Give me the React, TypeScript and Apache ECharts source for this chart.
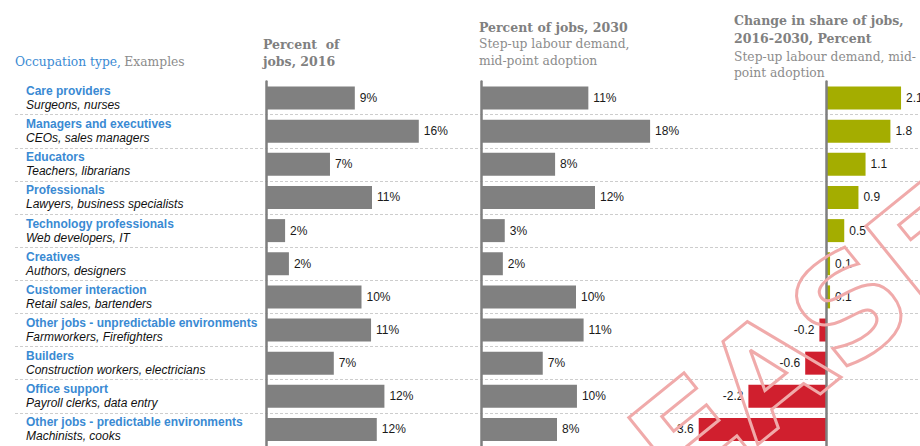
import React, { useEffect, useRef } from "react";
import * as echarts from "echarts";

const names = [
  "Care providers",
  "Managers and executives",
  "Educators",
  "Professionals",
  "Technology professionals",
  "Creatives",
  "Customer interaction",
  "Other jobs - unpredictable environments",
  "Builders",
  "Office support",
  "Other jobs - predictable environments",
];
const examples = [
  "Surgeons, nurses",
  "CEOs, sales managers",
  "Teachers, librarians",
  "Lawyers, business specialists",
  "Web developers, IT",
  "Authors, designers",
  "Retail sales, bartenders",
  "Farmworkers, Firefighters",
  "Construction workers, electricians",
  "Payroll clerks, data entry",
  "Machinists, cooks",
];
const share2016 = [9.3, 16.0, 6.7, 11.1, 2.0, 2.4, 10.0, 11.0, 7.1, 12.4, 11.6];
const share2030 = [11.3, 17.8, 7.8, 12.0, 2.5, 2.3, 10.0, 10.8, 6.5, 10.1, 8.0];
const change = [2.1, 1.8, 1.1, 0.9, 0.5, 0.1, 0.1, -0.2, -0.6, -2.2, -3.6];

const BLUE = "#3a8ad3";
const GRAY = "#808080";
const GREEN = "#a4ad00";
const RED = "#d01f2e";
const SERIF = '"DejaVu Serif", serif';
const SANS = '"Liberation Sans", Arial, sans-serif';

const TOP = 81.5;
const HEIGHT = 368.5;

export default function App() {
  const ref = useRef<HTMLDivElement>(null);
  useEffect(() => {
    if (!ref.current) return;
    const chart = echarts.init(ref.current, null, { renderer: "svg" });

    const hiddenCat = (gi: number, showLine: boolean) => ({
      type: "category" as const,
      gridIndex: gi,
      data: names,
      inverse: true,
      z: 5,
      axisLabel: { show: false },
      axisTick: { show: false },
      splitLine: { show: false },
      axisLine: { show: showLine, onZero: true, lineStyle: { color: "#7f7f7f", width: 2.5 } },
    });
    const valAxis = (gi: number, min: number, max: number) => ({
      type: "value" as const,
      gridIndex: gi,
      min,
      max,
      show: false,
    });
    const valLabel = {
      show: true,
      position: "right" as const,
      distance: 5,
      fontSize: 12,
      fontFamily: SANS,
      color: "#1a1a1a",
    };

    const header = (x: number, y: number, text: string, bold: boolean, color = "#808080") => ({
      type: "text" as const,
      x,
      y,
      style: {
        text,
        fontFamily: SERIF,
        fontSize: bold ? 12.5 : 12.3,
        fontWeight: bold ? "bold" : "normal",
        fill: color,
        textVerticalAlign: "middle",
      },
    });

    chart.setOption({
      animation: false,
      backgroundColor: "#ffffff",
      grid: [
        { left: 15, width: 905, top: TOP, height: HEIGHT },
        { left: 266, width: 191, top: TOP, height: HEIGHT },
        { left: 481, width: 190, top: TOP, height: HEIGHT },
        { left: 684.5, width: 234.3, top: TOP, height: HEIGHT },
      ],
      xAxis: [
        valAxis(0, 0, 1),
        valAxis(1, 0, 20),
        valAxis(2, 0, 20),
        valAxis(3, -4, 2.6),
      ],
      yAxis: [
        {
          type: "category",
          gridIndex: 0,
          data: names,
          inverse: true,
          axisLine: { show: false },
          axisTick: { show: false },
          splitLine: {
            show: true,
            interval: (i: number) => i > 0,
            lineStyle: { color: "#cdcdcd", type: [3, 2], width: 1 },
          },
          axisLabel: {
            inside: true,
            margin: 11,
            interval: 0,
            align: "left",
            formatter: (v: string, i: number) => `{n|${v}}\n{e|${examples[i]}}`,
            rich: {
              n: { color: BLUE, fontWeight: "bold", fontSize: 12, fontFamily: SANS, lineHeight: 14 },
              e: { color: "#111111", fontStyle: "italic", fontSize: 12, fontFamily: SANS, lineHeight: 14 },
            },
          },
        },
        hiddenCat(1, true),
        hiddenCat(2, true),
        hiddenCat(3, true),
      ],
      series: [
        {
          type: "bar",
          xAxisIndex: 1,
          yAxisIndex: 1,
          data: share2016,
          barWidth: 23,
          itemStyle: { color: GRAY },
          label: { ...valLabel, formatter: (p: any) => `${Math.round(p.value)}%` },
        },
        {
          type: "bar",
          xAxisIndex: 2,
          yAxisIndex: 2,
          data: share2030,
          barWidth: 23,
          itemStyle: { color: GRAY },
          label: { ...valLabel, formatter: (p: any) => `${Math.round(p.value)}%` },
        },
        {
          type: "bar",
          xAxisIndex: 3,
          yAxisIndex: 3,
          barWidth: 23,
          data: change.map((v) => ({
            value: v,
            itemStyle: { color: v >= 0 ? GREEN : RED },
            label: { position: v >= 0 ? "right" : "left" },
          })),
          label: { ...valLabel, formatter: (p: any) => `${p.value}` },
        },
      ],
      graphic: [
        {
          type: "text",
          x: 15,
          y: 61.5,
          style: {
            text: "{a|Occupation type,} {b|Examples}",
            textVerticalAlign: "middle",
            rich: {
              a: { fill: BLUE, fontFamily: SERIF, fontSize: 12.3 },
              b: { fill: "#8c8c8c", fontFamily: SERIF, fontSize: 12.3 },
            },
          },
        },
        header(263, 44.3, "Percent  of", true),
        header(263, 61.5, "jobs, 2016", true),
        header(479, 27.3, "Percent of jobs, 2030", true),
        header(479, 44, "Step-up labour demand,", false, "#8c8c8c"),
        header(479, 61, "mid-point adoption", false, "#8c8c8c"),
        header(734, 20.7, "Change in share of jobs,", true),
        header(734, 38.5, "2016-2030, Percent", true),
        header(734, 56.5, "Step-up labour demand, mid-", false, "#8c8c8c"),
        header(734, 72.5, "point adoption", false, "#8c8c8c"),
        {
          type: "text",
          x: 1008,
          y: 270,
          rotation: 0.68,
          z: 100,
          style: {
            text: "RELEASE",
            fontFamily: '"DejaVu Sans", sans-serif',
            fontWeight: "bold",
            fontSize: 140,
            fill: "rgba(255,255,255,0)",
            stroke: "#f0aaaa",
            lineWidth: 3,
            lineJoin: "round",
            textAlign: "right",
            textVerticalAlign: "bottom",
          },
        },
      ],
    });
    return () => chart.dispose();
  }, []);
  return (
    <div
      ref={ref}
      style={{ position: "absolute", left: 0, top: 0, width: 920, height: 446 }}
    />
  );
}
